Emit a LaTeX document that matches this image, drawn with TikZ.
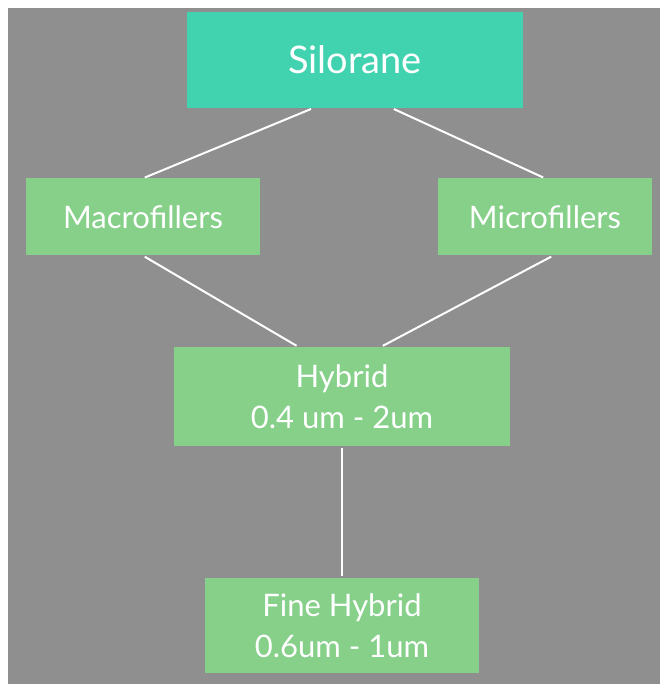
\documentclass[tikz,border=0pt]{standalone}
\usepackage{fontspec}
\setmainfont{Lato}
\usepackage{xcolor}
\definecolor{slideGray}{HTML}{8F8F8F}
\definecolor{rootTeal}{HTML}{41D3AF}
\definecolor{leafGreen}{HTML}{86D08A}
\usetikzlibrary{positioning,calc}
\tikzset{
    rootbox/.style={
        fill=rootTeal,
        rectangle,
        align=center,
        text=white,
        inner sep=0pt,
        font=\fontsize{38}{44}\selectfont
    },
    fillerbox/.style={
        fill=leafGreen,
        rectangle,
        align=center,
        text=white,
        inner sep=0pt,
        font=\fontsize{31}{41}\selectfont
    },
    link/.style={
        draw=white,
        line width=2pt,
        shorten <=2pt,
        shorten >=2pt
    }
}

\begin{document}
\begin{tikzpicture}[x=1pt,y=-1pt]
    % Canvas
    \useasboundingbox (0,0) rectangle (660,684);
    \fill[slideGray] (8,8) rectangle (660,684);

    % Root
    \node[rootbox, minimum width=336pt, minimum height=96pt] (silorane) at (355,60) {Silorane};

    % Filler types
    \node[fillerbox, minimum width=234pt, minimum height=77pt] (macro) at (143,217) {Macrofillers};
    \node[fillerbox, minimum width=214pt, minimum height=77pt] (micro) at (545,217) {Microfillers};

    % Hybrids
    \node[fillerbox, minimum width=336pt, minimum height=99pt] (hybrid) at (342,396.5) {Hybrid\\0.4 um - 2um};
    \node[fillerbox, minimum width=274pt, minimum height=95pt] (fine) at (342,625.5) {Fine Hybrid\\0.6um - 1um};

    % Connections
    \draw[link] ($(silorane.south west)!0.375!(silorane.south east)$) -- (macro.north);
    \draw[link] ($(silorane.south west)!0.61!(silorane.south east)$) -- (micro.north);
    \draw[link] (macro.south) -- ($(hybrid.north west)!0.37!(hybrid.north east)$);
    \draw[link] ($(micro.south)+(8,0)$) -- ($(hybrid.north west)!0.616!(hybrid.north east)$);
    \draw[link] (hybrid) -- (fine);
\end{tikzpicture}
\end{document}
